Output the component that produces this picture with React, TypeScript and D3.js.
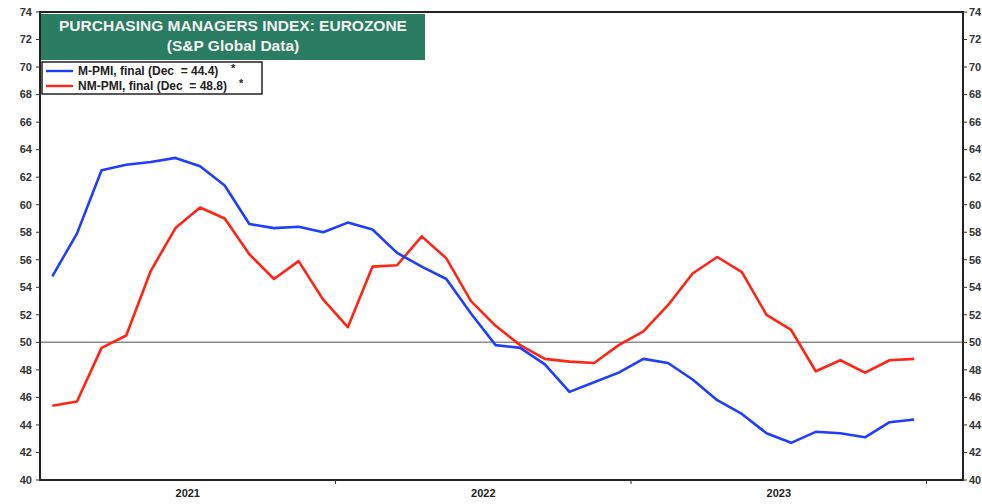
import React from "react";
import * as d3 from "d3";

const months: string[] = [
  "Jan 21","Feb 21","Mar 21","Apr 21","May 21","Jun 21","Jul 21","Aug 21","Sep 21","Oct 21","Nov 21","Dec 21",
  "Jan 22","Feb 22","Mar 22","Apr 22","May 22","Jun 22","Jul 22","Aug 22","Sep 22","Oct 22","Nov 22","Dec 22",
  "Jan 23","Feb 23","Mar 23","Apr 23","May 23","Jun 23","Jul 23","Aug 23","Sep 23","Oct 23","Nov 23","Dec 23",
];
const mPMI: number[] = [
  54.8, 57.9, 62.5, 62.9, 63.1, 63.4, 62.8, 61.4, 58.6, 58.3, 58.4, 58.0,
  58.7, 58.2, 56.5, 55.5, 54.6, 52.1, 49.8, 49.6, 48.4, 46.4, 47.1, 47.8,
  48.8, 48.5, 47.3, 45.8, 44.8, 43.4, 42.7, 43.5, 43.4, 43.1, 44.2, 44.4,
];
const nmPMI: number[] = [
  45.4, 45.7, 49.6, 50.5, 55.2, 58.3, 59.8, 59.0, 56.4, 54.6, 55.9, 53.1,
  51.1, 55.5, 55.6, 57.7, 56.1, 53.0, 51.2, 49.8, 48.8, 48.6, 48.5, 49.8,
  50.8, 52.7, 55.0, 56.2, 55.1, 52.0, 50.9, 47.9, 48.7, 47.8, 48.7, 48.8,
];
const years: string[] = ["2021", "2022", "2023"];
const yTicks: number[] = d3.range(40, 75, 2);
const titleLines: string[] = ["PURCHASING MANAGERS INDEX: EUROZONE", "(S&P Global Data)"];
const legendItems = [
  { label: "M-PMI, final (Dec  = 44.4)", color: "#1f3dff" },
  { label: "NM-PMI, final (Dec  = 48.8)", color: "#ff2414" },
];

export default function App() {
  const W = 982, H = 504;
  const left = 40, right = 963, top = 12, bottom = 480;
  const x = d3.scaleLinear().domain([-0.5, 37]).range([left, right + 0.5]);
  const y = d3.scaleLinear().domain([40, 74]).range([bottom, top]);
  const line = d3.line<number>().x((_, i) => x(i)).y((d) => y(d));
  const font = "'Liberation Sans', Arial, sans-serif";
  const tickColor = "#333";

  return (
    <svg width={W} height={H} style={{ position: "absolute", left: 0, top: 0, background: "#fff" }} fontFamily={font}>
      <rect x={0} y={0} width={W} height={H} fill="#fff" />
      <line x1={left} x2={right} y1={y(50)} y2={y(50)} stroke="#8a8a8a" strokeWidth={1.5} />
      <path d={line(nmPMI) || ""} fill="none" stroke="#ff2414" strokeWidth={2.6} strokeLinejoin="round" />
      <path d={line(mPMI) || ""} fill="none" stroke="#1f3dff" strokeWidth={2.6} strokeLinejoin="round" />
      <rect x={left} y={top} width={right - left} height={bottom - top} fill="none" stroke="#222" strokeWidth={2} />
      {yTicks.map((t) => (
        <g key={t}>
          <line x1={left - 4} x2={left} y1={y(t)} y2={y(t)} stroke={tickColor} strokeWidth={1} />
          <text x={left - 8} y={y(t)} dy="0.35em" textAnchor="end" fontSize={11} fontWeight="bold" fill="#333">{t}</text>
          <line x1={right} x2={right + 4} y1={y(t)} y2={y(t)} stroke={tickColor} strokeWidth={1} />
          <text x={right + 6} y={y(t)} dy="0.35em" textAnchor="start" fontSize={11} fontWeight="bold" fill="#333">{t}</text>
        </g>
      ))}
      {[11.5, 23.5, 35.5].map((b) => (
        <line key={b} x1={x(b)} x2={x(b)} y1={bottom} y2={bottom + 4} stroke={tickColor} strokeWidth={1} />
      ))}
      {years.map((yr, i) => (
        <text key={yr} x={x(i * 12 + 5.5)} y={bottom + 17} textAnchor="middle" fontSize={11} fontWeight="bold" fill="#222">{yr}</text>
      ))}
      <rect x={41} y={14} width={384} height={46} fill="#2a7c63" />
      {titleLines.map((t, i) => (
        <text key={t} x={233} y={31 + i * 20} textAnchor="middle" fontSize={15.5} fontWeight="bold" fill="#f2f2f2">{t}</text>
      ))}
      <rect x={42} y={62} width={220} height={32} fill="#fff" stroke="#222" strokeWidth={1.5} />
      {legendItems.map((it, i) => (
        <g key={it.label}>
          <line x1={46} x2={73} y1={71 + i * 15} y2={71 + i * 15} stroke={it.color} strokeWidth={2.4} />
          <text x={78} y={71 + i * 15} dy="0.35em" fontSize={12} fontWeight="bold" fill="#222" xmlSpace="preserve">{it.label}</text>
          <text x={i === 0 ? 231 : 239} y={68 + i * 15} dy="0.35em" fontSize={11} fontWeight="bold" fill="#222">*</text>
        </g>
      ))}
    </svg>
  );
}
